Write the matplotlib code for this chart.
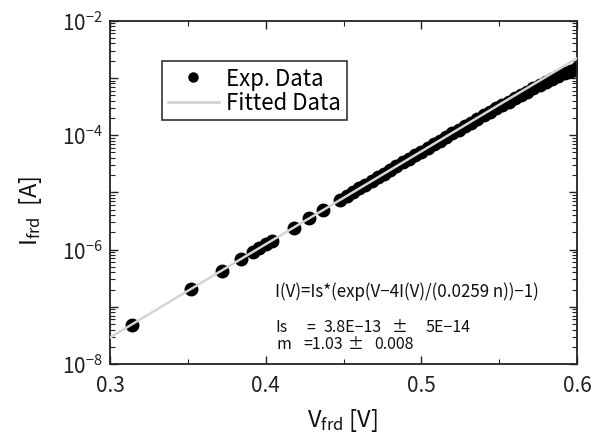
import math
import matplotlib
matplotlib.use("Agg")
import matplotlib.pyplot as plt
from matplotlib.lines import Line2D
from matplotlib.ticker import LogLocator, FixedLocator, NullFormatter, FuncFormatter

plt.rcParams['font.family'] = ['Noto Sans CJK JP', 'DejaVu Sans']
plt.rcParams['mathtext.fontset'] = 'custom'
plt.rcParams['mathtext.rm'] = 'Noto Sans CJK JP'
plt.rcParams['mathtext.it'] = 'Noto Sans CJK JP'
plt.rcParams['axes.unicode_minus'] = True

# Measured forward characteristic of the recovery diode
v_exp = [0.314, 0.352, 0.372, 0.384, 0.392, 0.396, 0.400, 0.404, 0.418, 0.428, 0.437,
         0.448, 0.452, 0.456, 0.460, 0.464, 0.468, 0.472, 0.476, 0.480, 0.484, 0.488,
         0.492, 0.496, 0.500, 0.504, 0.508, 0.512, 0.516, 0.520, 0.524, 0.528, 0.532,
         0.536, 0.540, 0.544, 0.548, 0.552, 0.556, 0.560, 0.564, 0.568, 0.572, 0.576,
         0.580, 0.584, 0.588, 0.592, 0.596, 0.600]
i_exp = [4.9e-8, 2.07e-7, 4.25e-7, 6.86e-7, 9.1e-7, 1.06e-6, 1.23e-6, 1.43e-6, 2.37e-6,
         3.58e-6, 4.89e-6,
         7.4e-6, 8.64e-6, 1.00e-5, 1.17e-5, 1.36e-5, 1.57e-5, 1.83e-5, 2.13e-5, 2.47e-5,
         2.87e-5, 3.33e-5, 3.83e-5, 4.45e-5, 5.15e-5, 5.98e-5, 6.92e-5, 8.02e-5, 9.29e-5,
         1.075e-4, 1.243e-4, 1.436e-4, 1.658e-4, 1.914e-4, 2.21e-4, 2.54e-4, 2.93e-4,
         3.36e-4, 3.86e-4, 4.42e-4, 5.04e-4, 5.76e-4, 6.55e-4, 7.43e-4, 8.4e-4, 9.5e-4,
         1.07e-3, 1.2e-3, 1.34e-3, 1.50e-3]

# Diode-equation fit
v_fit = [0.30, 0.35, 0.40, 0.45, 0.50, 0.55, 0.60]
i_fit = [2.9e-8, 1.9e-7, 1.24e-6, 8.0e-6, 5.2e-5, 3.4e-4, 2.2e-3]

x_ticks = [0.3, 0.4, 0.5, 0.6]
y_labels_exp = [-2, -4, -6, -8]

W, H = 602, 439
fig = plt.figure(figsize=(W / 100, H / 100), dpi=100)
ax = fig.add_axes([110 / W, 1 - 365 / H, 467 / W, (365 - 21.7) / H])

ax.plot(v_exp, i_exp, linestyle='none', marker='o', ms=9, color='black', zorder=2)
ax.plot(v_fit, i_fit, color='#d4d4d4', lw=1.8, zorder=3)

ax.set_yscale('log')
ax.set_xlim(0.3, 0.6)
ax.set_ylim(1e-8, 1e-2)

ax.xaxis.set_major_locator(FixedLocator(x_ticks))
ax.xaxis.set_minor_locator(FixedLocator([0.35, 0.45, 0.55]))
ax.yaxis.set_major_locator(LogLocator(base=10, numticks=20))
ax.yaxis.set_minor_locator(LogLocator(base=10, subs=range(2, 10), numticks=20))
ax.yaxis.set_minor_formatter(NullFormatter())


def fmt_y(val, pos):
    e = int(round(math.log10(val)))
    if e in y_labels_exp:
        return r'$\mathregular{10^{%d}}$' % e
    return ''


ax.yaxis.set_major_formatter(FuncFormatter(fmt_y))
ax.xaxis.set_major_formatter(FuncFormatter(lambda v, p: '%.1f' % v))

ax.tick_params(which='both', direction='in', top=True, right=True, color='#222222')
ax.tick_params(which='major', length=6, width=1.0, labelsize=15, colors='#222222')
ax.tick_params(which='minor', length=3.5, width=0.8)
ax.tick_params(axis='x', which='major', pad=7)
ax.tick_params(axis='y', which='major', pad=5)
for s in ax.spines.values():
    s.set_linewidth(1.3)
    s.set_color('#222222')

# Axis titles
fig.text(30 / W, 1 - 211 / H, r'$\mathregular{I_{frd}}$  [A]', rotation=90,
         ha='center', va='center', fontsize=17, color='#111111')
fig.text(342 / W, 1 - 427 / H, r'$\mathregular{V_{frd}}$ [V]', ha='center',
         va='baseline', fontsize=17, color='#111111')

# Legend
handles = [Line2D([], [], linestyle='none', marker='o', ms=6.5, color='black'),
           Line2D([], [], color='#d4d4d4', lw=2)]
leg = ax.legend(handles, ['Exp. Data', 'Fitted Data'], loc='upper left',
                bbox_to_anchor=((162 - 110) / 467, (365 - 62) / 343.3),
                borderaxespad=0, fancybox=False, framealpha=1, edgecolor='#222222',
                fontsize=16, handlelength=2.3, handletextpad=0.35, borderpad=0.25,
                labelspacing=0.08)
leg.get_frame().set_linewidth(1.1)

# Fit summary
txt = dict(fontsize=11.5, va='center', ha='left', color='#111111')
fig.text(275 / W, 1 - 292 / H, 'I(V)=Is*(exp(V−4I(V)/(0.0259 n))−1)',
         **dict(txt, fontsize=12.2))
for x, s in [(275, 'Is'), (306, '='), (323, '3.8E−13'), (392, '±'), (425, '5E−14')]:
    fig.text(x / W, 1 - 328 / H, s, **txt)
for x, s in [(277, 'm'), (303, '=1.03'), (348, '±'), (374, '0.008')]:
    fig.text(x / W, 1 - 345 / H, s, **txt)

fig.savefig('out.png', dpi=100)
